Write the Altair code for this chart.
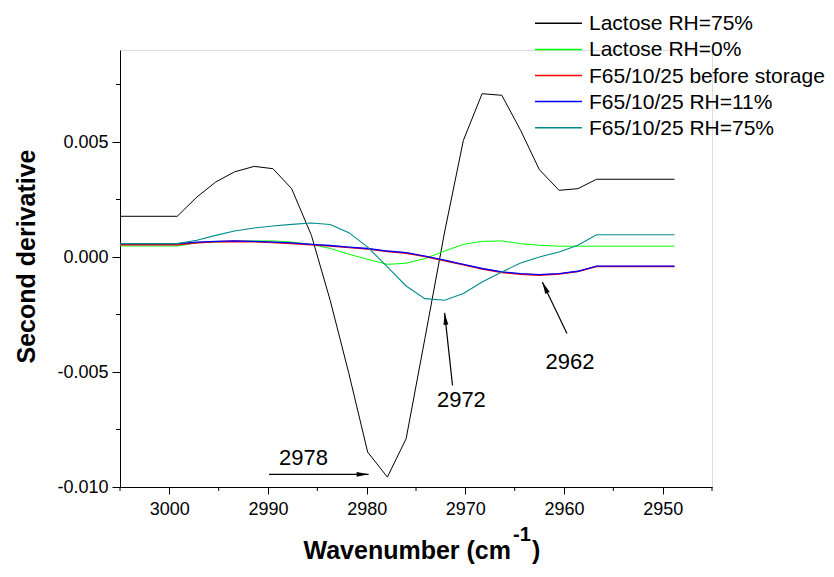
import math
import altair as alt
import pandas as pd

# ---------------- data ----------------
wavenumber = [3005.0, 2999.2, 2997.2, 2995.3, 2993.4, 2991.4, 2989.5, 2987.6, 2985.6,
              2983.7, 2981.8, 2979.9, 2977.9, 2976.0, 2974.1, 2972.1, 2970.2, 2968.3,
              2966.3, 2964.4, 2962.5, 2960.5, 2958.6, 2956.7, 2948.8]

lactose_rh75 = [0.00177, 0.00177, 0.00261, 0.00326, 0.00370, 0.00394, 0.00384, 0.00297,
                0.00094, -0.00188, -0.00507, -0.00848, -0.00957, -0.00790, -0.00355,
                0.00109, 0.00507, 0.00710, 0.00703, 0.00551, 0.00380, 0.00290, 0.00297,
                0.00338, 0.00338]

lactose_rh0 = [0.00048, 0.00048, 0.00061, 0.00065, 0.00068, 0.00070, 0.00070, 0.00065,
               0.00055, 0.00037, 0.00012, -0.00010, -0.00032, -0.00027, -0.00007,
               0.00026, 0.00055, 0.00068, 0.00070, 0.00058, 0.00051, 0.00047, 0.00047,
               0.00047, 0.00047]

f65_before = [0.00054, 0.00054, 0.00062, 0.00066, 0.00068, 0.00066, 0.00063, 0.00059,
              0.00053, 0.00048, 0.00041, 0.00035, 0.00024, 0.00017, 0.00002, -0.00016,
              -0.00034, -0.00052, -0.00067, -0.00075, -0.00079, -0.00074, -0.00063,
              -0.00041, -0.00041]

f65_rh11 = [0.00058, 0.00058, 0.00065, 0.00068, 0.00070, 0.00068, 0.00065, 0.00061,
            0.00055, 0.00050, 0.00043, 0.00037, 0.00026, 0.00019, 0.00004, -0.00014,
            -0.00032, -0.00050, -0.00065, -0.00072, -0.00077, -0.00072, -0.00062,
            -0.00040, -0.00040]

f65_rh75 = [0.00058, 0.00058, 0.00073, 0.00094, 0.00113, 0.00126, 0.00135, 0.00142,
            0.00148, 0.00141, 0.00106, 0.00043, -0.00043, -0.00126, -0.00181, -0.00188,
            -0.00159, -0.00109, -0.00065, -0.00026, 0.00000, 0.00022, 0.00051, 0.00097,
            0.00097]

series_names = ["Lactose RH=75%", "Lactose RH=0%", "F65/10/25 before storage",
                "F65/10/25 RH=11%", "F65/10/25 RH=75%"]

x_major = [3000, 2990, 2980, 2970, 2960, 2950]
x_minor = [3005, 2995, 2985, 2975, 2965, 2955, 2945]
y_major = [-0.010, -0.005, 0.0, 0.005]
y_minor = [-0.0075, -0.0025, 0.0025, 0.0075]

ann_labels = ["2978", "2972", "2962"]
ann_text_wn = [2986.4, 2970.4, 2959.4]
ann_text_val = [-0.00906, -0.00652, -0.00485]
ann_tail_wn = [2989.9, 2971.3, 2959.7]
ann_tail_val = [-0.00945, -0.00558, -0.00333]
ann_head_wn = [2979.8, 2972.1, 2962.2]
ann_head_val = [-0.00945, -0.00243, -0.00109]

# ---------------- styling ----------------
series_values = [lactose_rh75, lactose_rh0, f65_before, f65_rh11, f65_rh75]
series_colors = ["#000000", "#00ff00", "#ff0000", "#0000ff", "#008b8b"]
series_widths = [1.0, 1.0, 1.6, 1.3, 1.1]

W, H = 592, 437
XDOM = [2945, 3005]
YDOM = [-0.010, 0.009]
FONT = "Liberation Sans, Arial, sans-serif"

xscale = alt.Scale(domain=XDOM, reverse=True, nice=False, zero=False)
yscale = alt.Scale(domain=YDOM, nice=False, zero=False)

x_axis = alt.Axis(values=x_major, format="d", title=None, grid=False,
                  tickSize=7, labelPadding=6, labelFont=FONT, labelFontSize=18,
                  labelColor="black", domainColor="black", tickColor="black",
                  labelFlush=False, labelOverlap=False)
y_axis = alt.Axis(values=y_major, grid=False, tickSize=8, labelPadding=4,
                  labelExpr="datum.value < 0 ? '-' + format(-datum.value, '.3f') : format(datum.value, '.3f')",
                  labelFont=FONT, labelFontSize=18, labelColor="black",
                  domainColor="black", tickColor="black", labelFlush=False, labelOverlap=False,
                  title="Second derivative", titleFont=FONT, titleFontSize=25,
                  titleFontWeight="bold", titleColor="black", titleAngle=270,
                  titleAlign="center", titleBaseline="alphabetic", titleX=-86, titleY=206)


def X(field):
    return alt.X(field, scale=xscale, axis=x_axis)


def Y(field):
    return alt.Y(field, scale=yscale, axis=y_axis)


layers = []
for i, (name, vals) in enumerate(zip(series_names, series_values)):
    df = pd.DataFrame({"x": wavenumber, "y": vals, "series": name})
    layers.append(
        alt.Chart(df).mark_line(color=series_colors[i], strokeWidth=series_widths[i], clip=True)
        .encode(x=X("x:Q"), y=Y("y:Q"), order=alt.Order("x:Q", sort="descending"))
    )

# minor ticks
layers.append(
    alt.Chart(pd.DataFrame({"x": x_minor})).mark_rule(color="black", strokeWidth=1)
    .encode(x=X("x:Q"), y=alt.value(H), y2=alt.value(H + 4))
)
layers.append(
    alt.Chart(pd.DataFrame({"y": y_minor})).mark_rule(color="black", strokeWidth=1)
    .encode(y=Y("y:Q"), x=alt.value(-4), x2=alt.value(0))
)

# annotations
pxx = W / (XDOM[1] - XDOM[0])
pxy = H / (YDOM[1] - YDOM[0])
angles = []
for tw, tv, hw, hv in zip(ann_tail_wn, ann_tail_val, ann_head_wn, ann_head_val):
    dx = -(hw - tw) * pxx
    dy = -(hv - tv) * pxy
    angles.append(math.degrees(math.atan2(dx, -dy)) % 360)

ann = pd.DataFrame({"label": ann_labels, "tx": ann_text_wn, "ty": ann_text_val,
                    "x": ann_tail_wn, "y": ann_tail_val, "x2": ann_head_wn,
                    "y2": ann_head_val, "ang": angles})

layers.append(
    alt.Chart(ann).mark_rule(color="black", strokeWidth=1.2)
    .encode(x=X("x:Q"), y=Y("y:Q"), x2="x2:Q", y2="y2:Q")
)
layers.append(
    alt.Chart(ann).mark_point(shape="M0,0L0.2,1L-0.2,1Z", filled=True, size=576,
                              color="black", opacity=1, strokeWidth=0)
    .encode(x=X("x2:Q"), y=Y("y2:Q"), angle=alt.Angle("ang:Q", scale=None))
)
layers.append(
    alt.Chart(ann).mark_text(font=FONT, fontSize=22, color="black", align="center",
                             baseline="alphabetic")
    .encode(x=X("tx:Q"), y=Y("ty:Q"), text="label:N")
)

# legend (drawn manually)
leg = pd.DataFrame({"series": series_names,
                    "ly": [-26.7 + 26.1 * i for i in range(len(series_names))]})
color_scale = alt.Scale(domain=series_names, range=series_colors)
layers.append(
    alt.Chart(leg).mark_rule(strokeWidth=1.5)
    .encode(x=alt.value(415), x2=alt.value(462), y=alt.Y("ly:Q", scale=None),
            color=alt.Color("series:N", scale=color_scale, legend=None))
)
layers.append(
    alt.Chart(leg).mark_text(font=FONT, fontSize=21, color="black", align="left",
                             baseline="middle", dy=1)
    .encode(x=alt.value(469), y=alt.Y("ly:Q", scale=None), text="series:N")
)

# x-axis title with superscript
layers.append(
    alt.Chart(pd.DataFrame({"t": ["Wavenumber (cm"]})).mark_text(
        font=FONT, fontSize=25, fontWeight="bold", color="black", align="right",
        baseline="alphabetic")
    .encode(x=alt.value(391), y=alt.value(509), text="t:N")
)
layers.append(
    alt.Chart(pd.DataFrame({"t": ["-1"]})).mark_text(
        font=FONT, fontSize=20, fontWeight="bold", color="black", align="left",
        baseline="alphabetic")
    .encode(x=alt.value(393), y=alt.value(491), text="t:N")
)
layers.append(
    alt.Chart(pd.DataFrame({"t": [")"]})).mark_text(
        font=FONT, fontSize=25, fontWeight="bold", color="black", align="left",
        baseline="alphabetic")
    .encode(x=alt.value(412), y=alt.value(509), text="t:N")
)

chart = alt.layer(*layers).properties(
    width=W, height=H,
    padding={"left": 112, "top": 42, "right": 114, "bottom": 80},
    autosize=alt.AutoSizeParams(type="none"),
).configure_view(stroke=None).configure(background="white")

chart.save("out.html", embed_options={"renderer": "svg", "actions": False})
